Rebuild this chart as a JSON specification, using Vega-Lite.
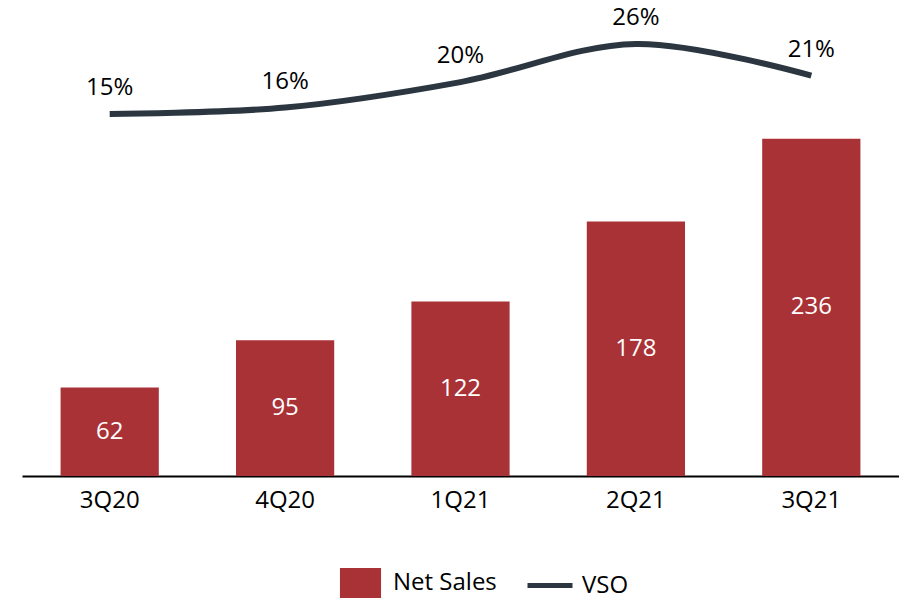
{
  "$schema": "https://vega.github.io/schema/vega-lite/v6.json",
  "width": 877,
  "height": 476,
  "padding": {"left": 22, "top": 0, "right": 0, "bottom": 0},
  "data": {"values": [
    {"q": "3Q20", "sales": 62, "vso": 0.15},
    {"q": "4Q20", "sales": 95, "vso": 0.16},
    {"q": "1Q21", "sales": 122, "vso": 0.20},
    {"q": "2Q21", "sales": 178, "vso": 0.26},
    {"q": "3Q21", "sales": 236, "vso": 0.21}
  ]},
  "encoding": {
    "x": {"field": "q", "type": "nominal", "sort": null, "title": null,
      "scale": {"paddingInner": 0.44, "paddingOuter": 0.22},
      "axis": {"domainColor": "#000000", "domainWidth": 2, "ticks": false, "grid": false,
        "labelAngle": 0, "labelFontSize": 24, "labelColor": "#000000", "labelPadding": 12, "labelFont": "Open Sans"}}
  },
  "layer": [
    {
      "mark": {"type": "bar"},
      "encoding": {
        "y": {"field": "sales", "type": "quantitative", "scale": {"domain": [0, 333], "nice": false}, "axis": null},
        "fill": {"datum": "Net Sales", "scale": {"range": ["#A93237"]},
          "legend": {"title": null, "orient": "none", "legendX": 323.5, "legendY": 568, "padding": 0,
            "symbolType": "M-1.37,-1H1.37V1H-1.37Z", "symbolSize": 900, "symbolStrokeWidth": 0,
            "labelOffset": 17.5, "labelFontSize": 24, "labelColor": "#000000", "labelFont": "Open Sans"}}
      }
    },
    {
      "mark": {"type": "text", "color": "#FFFFFF", "fontSize": 24, "font": "Open Sans", "baseline": "middle"},
      "encoding": {
        "y": {"field": "sales", "type": "quantitative", "scale": {"domain": [0, 666], "nice": false}, "axis": null},
        "text": {"field": "sales", "type": "quantitative"}
      }
    },
    {
      "mark": {"type": "line", "interpolate": "catmull-rom", "strokeWidth": 6},
      "encoding": {
        "y": {"field": "vso", "type": "quantitative", "scale": {"domain": [-0.419, 0.329], "nice": false, "zero": false}, "axis": null},
        "stroke": {"datum": "VSO", "scale": {"range": ["#2B3640"]},
          "legend": {"title": null, "orient": "none", "legendX": 503, "legendY": 560.5, "padding": 0,
            "symbolType": "stroke", "symbolSize": 2025, "symbolStrokeWidth": 5,
            "labelOffset": 7, "labelFontSize": 24, "labelColor": "#000000", "labelFont": "Open Sans"}}
      }
    },
    {
      "mark": {"type": "text", "color": "#000000", "fontSize": 24, "font": "Open Sans", "baseline": "middle", "dy": -26},
      "encoding": {
        "y": {"field": "vso", "type": "quantitative", "scale": {"domain": [-0.419, 0.329], "nice": false, "zero": false}, "axis": null},
        "text": {"field": "vso", "type": "quantitative", "format": ".0%"}
      }
    }
  ],
  "resolve": {"scale": {"y": "independent"}},
  "config": {"view": {"stroke": null}, "font": "Open Sans"}
}
